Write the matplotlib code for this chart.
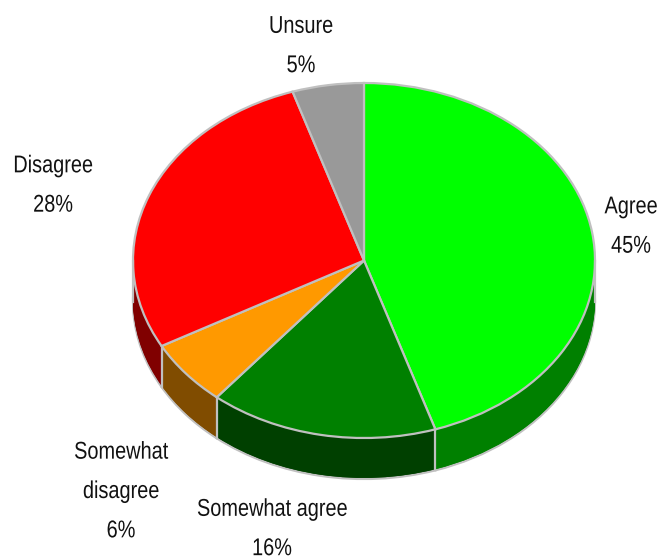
import numpy as np
import matplotlib
matplotlib.use("Agg")
import matplotlib.pyplot as plt
from matplotlib.patheffects import AbstractPathEffect
from matplotlib.transforms import Affine2D

categories = ["Agree", "Somewhat agree", "Somewhat disagree", "Disagree", "Unsure"]
values = [45, 16, 6, 28, 5]
label_texts = ["Agree\n45%", "Somewhat agree\n16%", "Somewhat\ndisagree\n6%", "Disagree\n28%", "Unsure\n5%"]
top_colors = ["#00ff00", "#008000", "#ff9900", "#ff0000", "#999999"]
side_colors = ["#008000", "#004000", "#804c00", "#800000", "#4d4d4d"]

W, H = 660, 560
CX, CY, RX, RY, DEPTH = 364, 260.5, 231, 177.5, 41
EDGE = "#c0c0c0"
NARROW = 0.82
plt.rcParams["font.family"] = ["Liberation Sans", "DejaVu Sans"]


class Narrow(AbstractPathEffect):
    """Condense glyphs horizontally about a pixel x position."""
    def __init__(self, factor, px):
        super().__init__()
        self.factor, self.px = factor, px

    def draw_path(self, renderer, gc, tpath, affine, rgbFace=None):
        squeeze = Affine2D().translate(-self.px, 0).scale(self.factor, 1).translate(self.px, 0)
        renderer.draw_path(gc, tpath, affine + squeeze, rgbFace)


fig = plt.figure(figsize=(W / 100, H / 100), dpi=100, facecolor="white")
ax = fig.add_axes([0, 0, 1, 1])


def draw(center_y, colors, edge, lw):
    ax.pie(values, colors=colors, startangle=90, counterclock=False, radius=1,
           center=(0, center_y), normalize=True,
           wedgeprops=dict(edgecolor=edge, linewidth=lw))


d = DEPTH / RY
draw(-d, side_colors, EDGE, 1.6)
for s in np.arange(d - 0.006, 0.0, -0.006):
    draw(-s, side_colors, "none", 0)

# vertical edges on the visible side of the rim
cum = np.cumsum(values) / np.sum(values)
for f in cum:
    a = 2 * np.pi * f
    if np.cos(a) < 0:
        ax.plot([np.sin(a)] * 2, [np.cos(a), np.cos(a) - d], color=EDGE, lw=1.6)
for sx in (-1, 1):
    ax.plot([sx, sx], [0, -d], color=EDGE, lw=1.6)

draw(0, top_colors, EDGE, 1.6)

ax.set_aspect("auto")
ax.set_xlim(-CX / RX, (W - CX) / RX)
ax.set_ylim(-(H - CY) / RY, CY / RY)
ax.axis("off")

positions = [(631, 227), (272, 529.5), (121, 492), (53, 186), (301, 46.5)]
for txt, (px, py) in zip(label_texts, positions):
    # unsqueezed text box stays inside the figure; the pivot puts the glyphs at px
    tx = min(px, W - 35)
    pivot = (px - NARROW * tx) / (1 - NARROW)
    ax.text((tx - CX) / RX, (CY - py) / RY, txt, ha="center", va="center",
            fontsize=17.5, color="#111111", linespacing=2.02,
            path_effects=[Narrow(NARROW, pivot)])

fig.savefig("out.png", dpi=100)
